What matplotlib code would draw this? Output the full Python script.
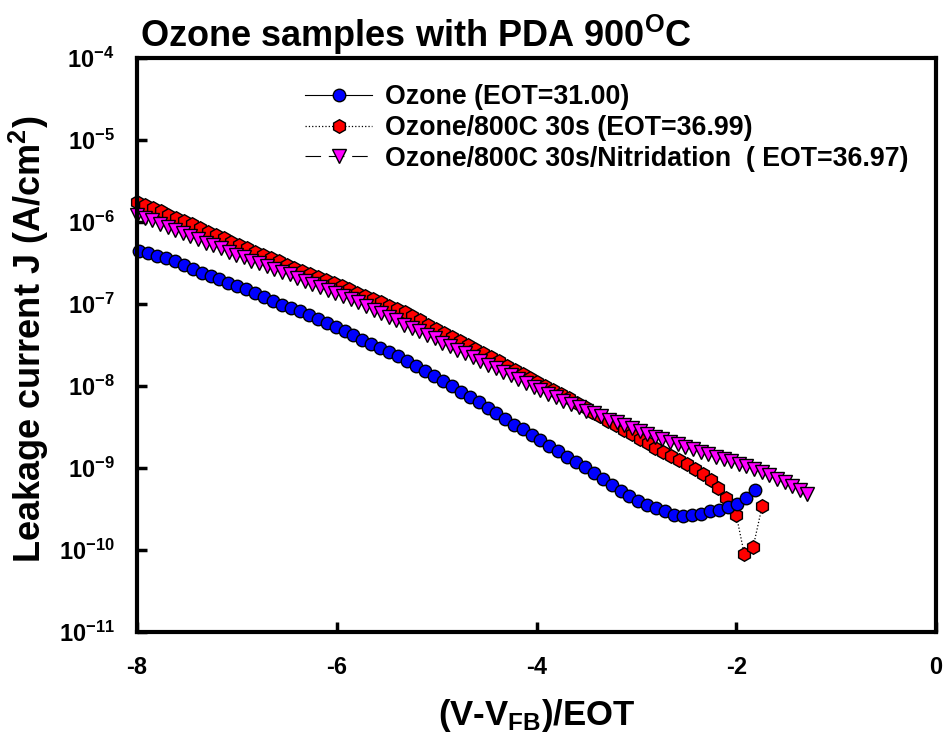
import numpy as np
import matplotlib
matplotlib.use("Agg")
import matplotlib.pyplot as plt
from matplotlib.ticker import NullLocator

plt.rcParams['font.family'] = ['Liberation Sans', 'DejaVu Sans']
plt.rcParams['font.weight'] = 'bold'
plt.rcParams['mathtext.fontset'] = 'custom'
plt.rcParams['mathtext.rm'] = 'Liberation Sans:bold'
plt.rcParams['mathtext.it'] = 'Liberation Sans:bold'
plt.rcParams['mathtext.bf'] = 'Liberation Sans:bold'

# Ozone (EOT=31.00): field and log10(J)
x_ozone = [-7.98, -7.89, -7.80, -7.71, -7.62, -7.53, -7.44, -7.35, -7.26, -7.18,
           -7.09, -7.00, -6.91, -6.82, -6.73, -6.64, -6.55, -6.46, -6.37, -6.28,
           -6.19, -6.10, -6.01, -5.92, -5.84, -5.75, -5.66, -5.57, -5.48, -5.39,
           -5.30, -5.21, -5.12, -5.03, -4.94, -4.85, -4.76, -4.67, -4.58, -4.49,
           -4.41, -4.32, -4.23, -4.14, -4.05, -3.96, -3.87, -3.78, -3.69, -3.60,
           -3.51, -3.42, -3.33, -3.24, -3.15, -3.07, -2.98, -2.89, -2.80, -2.71,
           -2.62, -2.53, -2.44, -2.35, -2.26, -2.17, -2.08, -1.99, -1.90, -1.81]
logj_ozone = [-6.35, -6.38, -6.41, -6.44, -6.48, -6.52, -6.57, -6.62, -6.66, -6.70,
              -6.74, -6.78, -6.82, -6.87, -6.91, -6.96, -7.01, -7.05, -7.09, -7.13,
              -7.18, -7.23, -7.28, -7.33, -7.38, -7.44, -7.49, -7.54, -7.59, -7.64,
              -7.70, -7.76, -7.82, -7.88, -7.94, -8.00, -8.07, -8.13, -8.20, -8.27,
              -8.33, -8.40, -8.47, -8.53, -8.60, -8.66, -8.73, -8.79, -8.86, -8.93,
              -8.99, -9.06, -9.14, -9.21, -9.28, -9.34, -9.40, -9.45, -9.49, -9.53,
              -9.57, -9.58, -9.57, -9.56, -9.53, -9.51, -9.48, -9.44, -9.37, -9.27]

# Ozone/800C 30s (EOT=36.99)
x_anneal = [-8.00, -7.92, -7.84, -7.76, -7.69, -7.61, -7.53, -7.45, -7.37, -7.29,
            -7.21, -7.13, -7.06, -6.98, -6.90, -6.82, -6.74, -6.66, -6.58, -6.50,
            -6.43, -6.35, -6.27, -6.19, -6.11, -6.03, -5.95, -5.88, -5.80, -5.72,
            -5.64, -5.56, -5.48, -5.40, -5.32, -5.25, -5.17, -5.09, -5.01, -4.93,
            -4.85, -4.77, -4.69, -4.62, -4.54, -4.46, -4.38, -4.30, -4.22, -4.14,
            -4.07, -3.99, -3.91, -3.83, -3.75, -3.67, -3.59, -3.51, -3.44, -3.36,
            -3.28, -3.20, -3.12, -3.04, -2.96, -2.88, -2.81, -2.73, -2.65, -2.57,
            -2.49, -2.41, -2.33, -2.25, -2.18, -2.10, -2.00, -1.92, -1.83, -1.74]
logj_anneal = [-5.75, -5.79, -5.83, -5.87, -5.91, -5.95, -5.99, -6.03, -6.07, -6.12,
               -6.16, -6.20, -6.24, -6.28, -6.32, -6.36, -6.40, -6.44, -6.48, -6.52,
               -6.56, -6.60, -6.64, -6.67, -6.71, -6.74, -6.78, -6.82, -6.86, -6.90,
               -6.94, -6.98, -7.02, -7.06, -7.10, -7.15, -7.20, -7.25, -7.30, -7.35,
               -7.40, -7.45, -7.50, -7.55, -7.60, -7.65, -7.70, -7.75, -7.80, -7.85,
               -7.90, -7.95, -8.00, -8.05, -8.10, -8.15, -8.21, -8.26, -8.32, -8.37,
               -8.43, -8.48, -8.54, -8.59, -8.65, -8.70, -8.75, -8.80, -8.85, -8.90,
               -8.95, -9.01, -9.07, -9.15, -9.24, -9.37, -9.57, -10.05, -9.96, -9.46]

# Ozone/800C 30s/Nitridation (EOT=36.97)
x_nitrid = [-8.00, -7.92, -7.85, -7.77, -7.69, -7.62, -7.54, -7.47, -7.39, -7.31,
            -7.24, -7.16, -7.08, -7.01, -6.93, -6.86, -6.78, -6.70, -6.63, -6.55,
            -6.47, -6.40, -6.32, -6.25, -6.17, -6.09, -6.02, -5.94, -5.86, -5.79,
            -5.71, -5.63, -5.56, -5.48, -5.41, -5.33, -5.25, -5.18, -5.10, -5.02,
            -4.95, -4.87, -4.80, -4.72, -4.64, -4.57, -4.49, -4.41, -4.34, -4.26,
            -4.19, -4.11, -4.03, -3.96, -3.88, -3.80, -3.73, -3.65, -3.57, -3.50,
            -3.42, -3.35, -3.27, -3.19, -3.12, -3.04, -2.96, -2.89, -2.81, -2.74,
            -2.66, -2.58, -2.51, -2.43, -2.35, -2.28, -2.20, -2.12, -2.05, -1.97,
            -1.90, -1.82, -1.74, -1.67, -1.59, -1.51, -1.44, -1.36, -1.29]
logj_nitrid = [-5.91, -5.95, -5.98, -6.02, -6.06, -6.10, -6.13, -6.17, -6.21, -6.25,
               -6.28, -6.32, -6.36, -6.40, -6.43, -6.47, -6.50, -6.54, -6.57, -6.61,
               -6.64, -6.68, -6.72, -6.75, -6.79, -6.83, -6.86, -6.90, -6.94, -6.98,
               -7.03, -7.07, -7.11, -7.16, -7.20, -7.25, -7.29, -7.33, -7.38, -7.42,
               -7.47, -7.51, -7.56, -7.60, -7.65, -7.69, -7.74, -7.78, -7.83, -7.87,
               -7.92, -7.96, -8.01, -8.05, -8.10, -8.14, -8.18, -8.22, -8.26, -8.30,
               -8.33, -8.37, -8.41, -8.44, -8.48, -8.51, -8.55, -8.58, -8.62, -8.65,
               -8.68, -8.71, -8.74, -8.77, -8.80, -8.83, -8.86, -8.89, -8.92, -8.95,
               -8.98, -9.01, -9.05, -9.09, -9.13, -9.17, -9.22, -9.27, -9.32]

labels = ['Ozone (EOT=31.00)',
          'Ozone/800C 30s (EOT=36.99)',
          'Ozone/800C 30s/Nitridation  ( EOT=36.97)']

xticks = [-8, -6, -4, -2, 0]
ytick_exp = [-11, -10, -9, -8, -7, -6, -5, -4]

fig = plt.figure(figsize=(9.47, 7.44), dpi=100)
ax = fig.add_axes([137/947, 1 - 632/744, 799/947, 574/744])

l1, = ax.plot(x_ozone, 10**np.array(logj_ozone), '-', color='black', lw=0.8,
              marker='o', ms=9.0, mfc='blue', mec='black', mew=1.0,
              clip_on=False, zorder=5)
l2, = ax.plot(x_anneal, 10**np.array(logj_anneal), ':', color='black', lw=0.9,
              marker='h', ms=9.8, mfc='red', mec='black', mew=1.0,
              clip_on=False, zorder=3)
l3, = ax.plot(x_nitrid, 10**np.array(logj_nitrid), color='black', lw=0.8,
              linestyle=(0, (14, 7)),
              marker='v', ms=9.8, mfc='magenta', mec='black', mew=1.0,
              clip_on=False, zorder=4)

ax.set_yscale('log')
ax.set_xlim(-8, 0)
ax.set_ylim(1e-11, 1e-4)
ax.set_xticks(xticks)
ax.set_xticklabels([str(v) for v in xticks])
ax.set_yticks([10.0**e for e in ytick_exp])
ax.set_yticklabels([r'$\mathrm{10^{%d}}$' % e for e in ytick_exp])
ax.yaxis.set_minor_locator(NullLocator())
ax.xaxis.set_minor_locator(NullLocator())
ax.tick_params(direction='in', length=7, width=2.5, labelsize=17)
ax.tick_params(axis='x', pad=17)
ax.tick_params(axis='y', pad=16)
for sp in ax.spines.values():
    sp.set_linewidth(3)
    sp.set_zorder(6)

ax.set_xlabel(r'(V-V$_\mathrm{FB}$)/EOT', fontsize=25, fontweight='bold')
ax.xaxis.set_label_coords(0.5, -0.113)
ax.set_ylabel(r'Leakage current J (A/cm$^\mathrm{2}$)', fontsize=26,
              fontweight='bold')
ax.yaxis.set_label_coords(-0.108, 0.51)

fig.text(140/947, 1 - 47/744, r'Ozone samples with PDA 900$^\mathrm{O}$C',
         fontsize=26, fontweight='bold', va='baseline', ha='left')

leg = ax.legend([l1, l2, l3], labels, loc='center left',
                bbox_to_anchor=(305/947, 1 - 128/744),
                bbox_transform=fig.transFigure, frameon=False,
                fontsize=19.3, handlelength=2.5, handletextpad=0.5,
                labelspacing=0.17, borderpad=0, borderaxespad=0,
                numpoints=1)

fig.savefig('out.png', dpi=100)
